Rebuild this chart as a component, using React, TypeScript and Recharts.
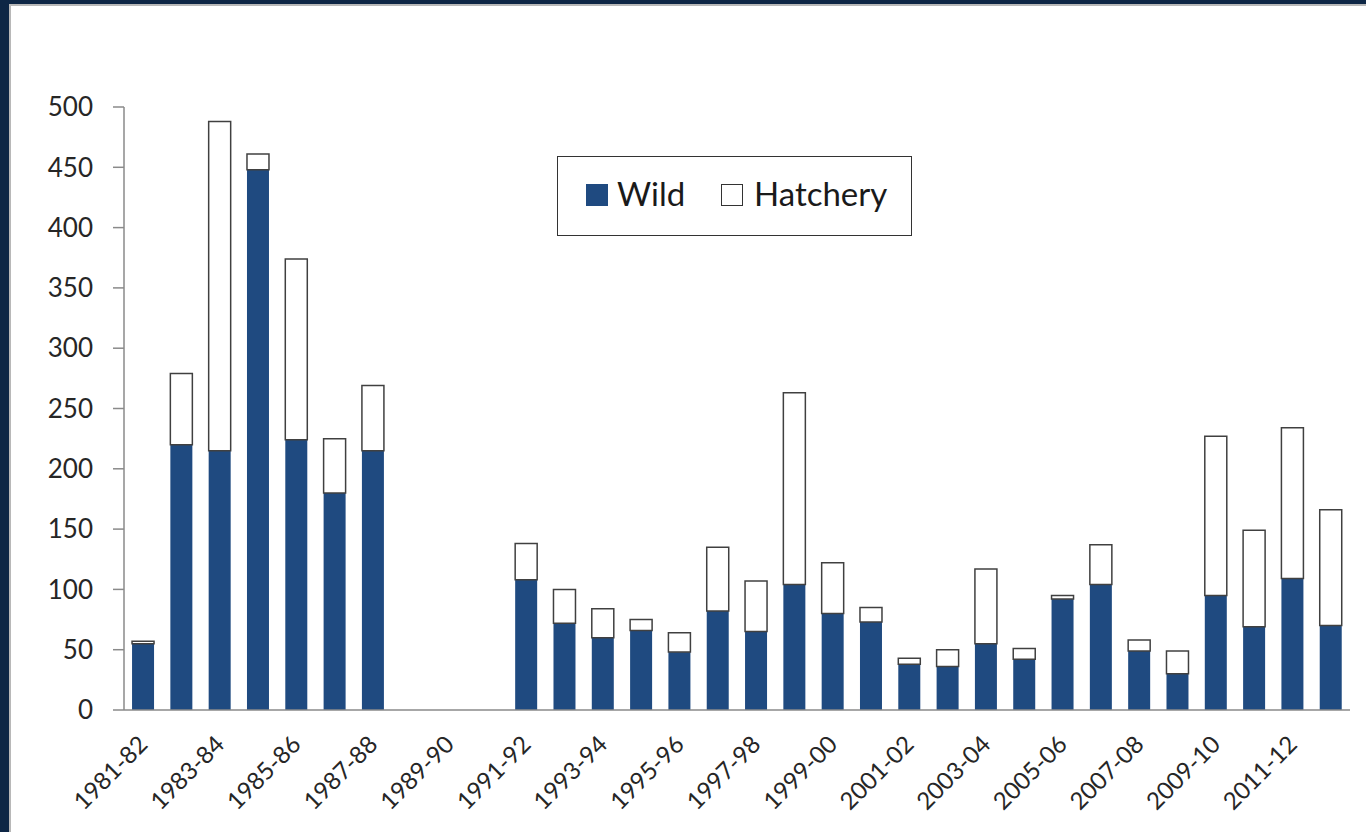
import React from 'react';
import { BarChart, Bar, XAxis, YAxis } from 'recharts';

const seasons = [
  '1981-82', '1982-83', '1983-84', '1984-85', '1985-86', '1986-87', '1987-88', '1988-89',
  '1989-90', '1990-91', '1991-92', '1992-93', '1993-94', '1994-95', '1995-96', '1996-97',
  '1997-98', '1998-99', '1999-00', '2000-01', '2001-02', '2002-03', '2003-04', '2004-05',
  '2005-06', '2006-07', '2007-08', '2008-09', '2009-10', '2010-11', '2011-12', '2012-13',
];

const wild: (number | null)[] = [
  55, 220, 215, 448, 224, 180, 215, null,
  null, null, 108, 72, 60, 66, 48, 82,
  65, 104, 80, 73, 38, 36, 55, 42,
  92, 104, 49, 30, 95, 69, 109, 70,
];

const hatchery: (number | null)[] = [
  2, 59, 273, 13, 150, 45, 54, null,
  null, null, 30, 28, 24, 9, 16, 53,
  42, 159, 42, 12, 5, 14, 62, 9,
  3, 33, 9, 19, 132, 80, 125, 96,
];

const yTicks = [0, 50, 100, 150, 200, 250, 300, 350, 400, 450, 500];

const data = seasons.map((s, i) => ({ season: s, Wild: wild[i], Hatchery: hatchery[i] }));

const FONT = 'Lato, "Open Sans", sans-serif';
const NAVY = '#1f4a80';
const FRAME = '#0d2645';
const AXIS = '#8a8a8a';

const XTick = (props: any) => {
  const { x, y, payload } = props;
  return (
    <g transform={`translate(${x + 6},${y + 28})`}>
      <text
        textAnchor="end"
        transform="rotate(-45)"
        fontSize={24}
        fontFamily={FONT}
        fill="#262626"
      >
        {payload.value}
      </text>
    </g>
  );
};

export default function App() {
  return (
    <div
      style={{
        position: 'fixed',
        left: 0,
        top: 0,
        width: 1366,
        height: 832,
        background: FRAME,
        overflow: 'hidden',
      }}
    >
      <div
        style={{
          position: 'absolute',
          left: 9,
          top: 4,
          width: 1357,
          height: 828,
          background: '#ffffff',
          borderLeft: '2px solid #b8b8b8',
          borderTop: '2px solid #b8b8b8',
          boxSizing: 'border-box',
        }}
      />
      <div style={{ position: 'absolute', left: 0, top: 0 }}>
        <BarChart
          width={1366}
          height={832}
          data={data}
          margin={{ top: 107, right: 16, bottom: 22, left: 44 }}
          barCategoryGap="21%"
        >
          <XAxis
            dataKey="season"
            interval={1}
            tickLine={false}
            axisLine={{ stroke: AXIS, strokeWidth: 1.5 }}
            tick={<XTick />}
            height={100}
          />
          <YAxis
            domain={[0, 500]}
            ticks={yTicks}
            interval={0}
            width={80}
            tickSize={11}
            tickMargin={20}
            axisLine={{ stroke: AXIS, strokeWidth: 1.5 }}
            tickLine={{ stroke: AXIS, strokeWidth: 1.5 }}
            tick={{ fontSize: 26, fontFamily: FONT, fill: '#262626' }}
          />
          <Bar dataKey="Wild" stackId="a" fill={NAVY} isAnimationActive={false} />
          <Bar
            dataKey="Hatchery"
            stackId="a"
            fill="#ffffff"
            stroke="#404040"
            strokeWidth={1.5}
            isAnimationActive={false}
          />
        </BarChart>
      </div>
      <div
        style={{
          position: 'absolute',
          left: 557,
          top: 156,
          width: 355,
          height: 80,
          border: '1.5px solid #333',
          boxSizing: 'border-box',
          background: '#fff',
          fontFamily: FONT,
          fontSize: 33,
          color: '#1a1a1a',
        }}
      >
        <div style={{ position: 'absolute', left: 28, top: 27, width: 22, height: 22, background: NAVY }} />
        <span style={{ position: 'absolute', left: 59, top: 16, lineHeight: '40px' }}>Wild</span>
        <div
          style={{
            position: 'absolute',
            left: 163,
            top: 27,
            width: 22,
            height: 22,
            border: '1.5px solid #333',
            boxSizing: 'border-box',
            background: '#fff',
          }}
        />
        <span style={{ position: 'absolute', left: 196, top: 16, lineHeight: '40px' }}>Hatchery</span>
      </div>
    </div>
  );
}
